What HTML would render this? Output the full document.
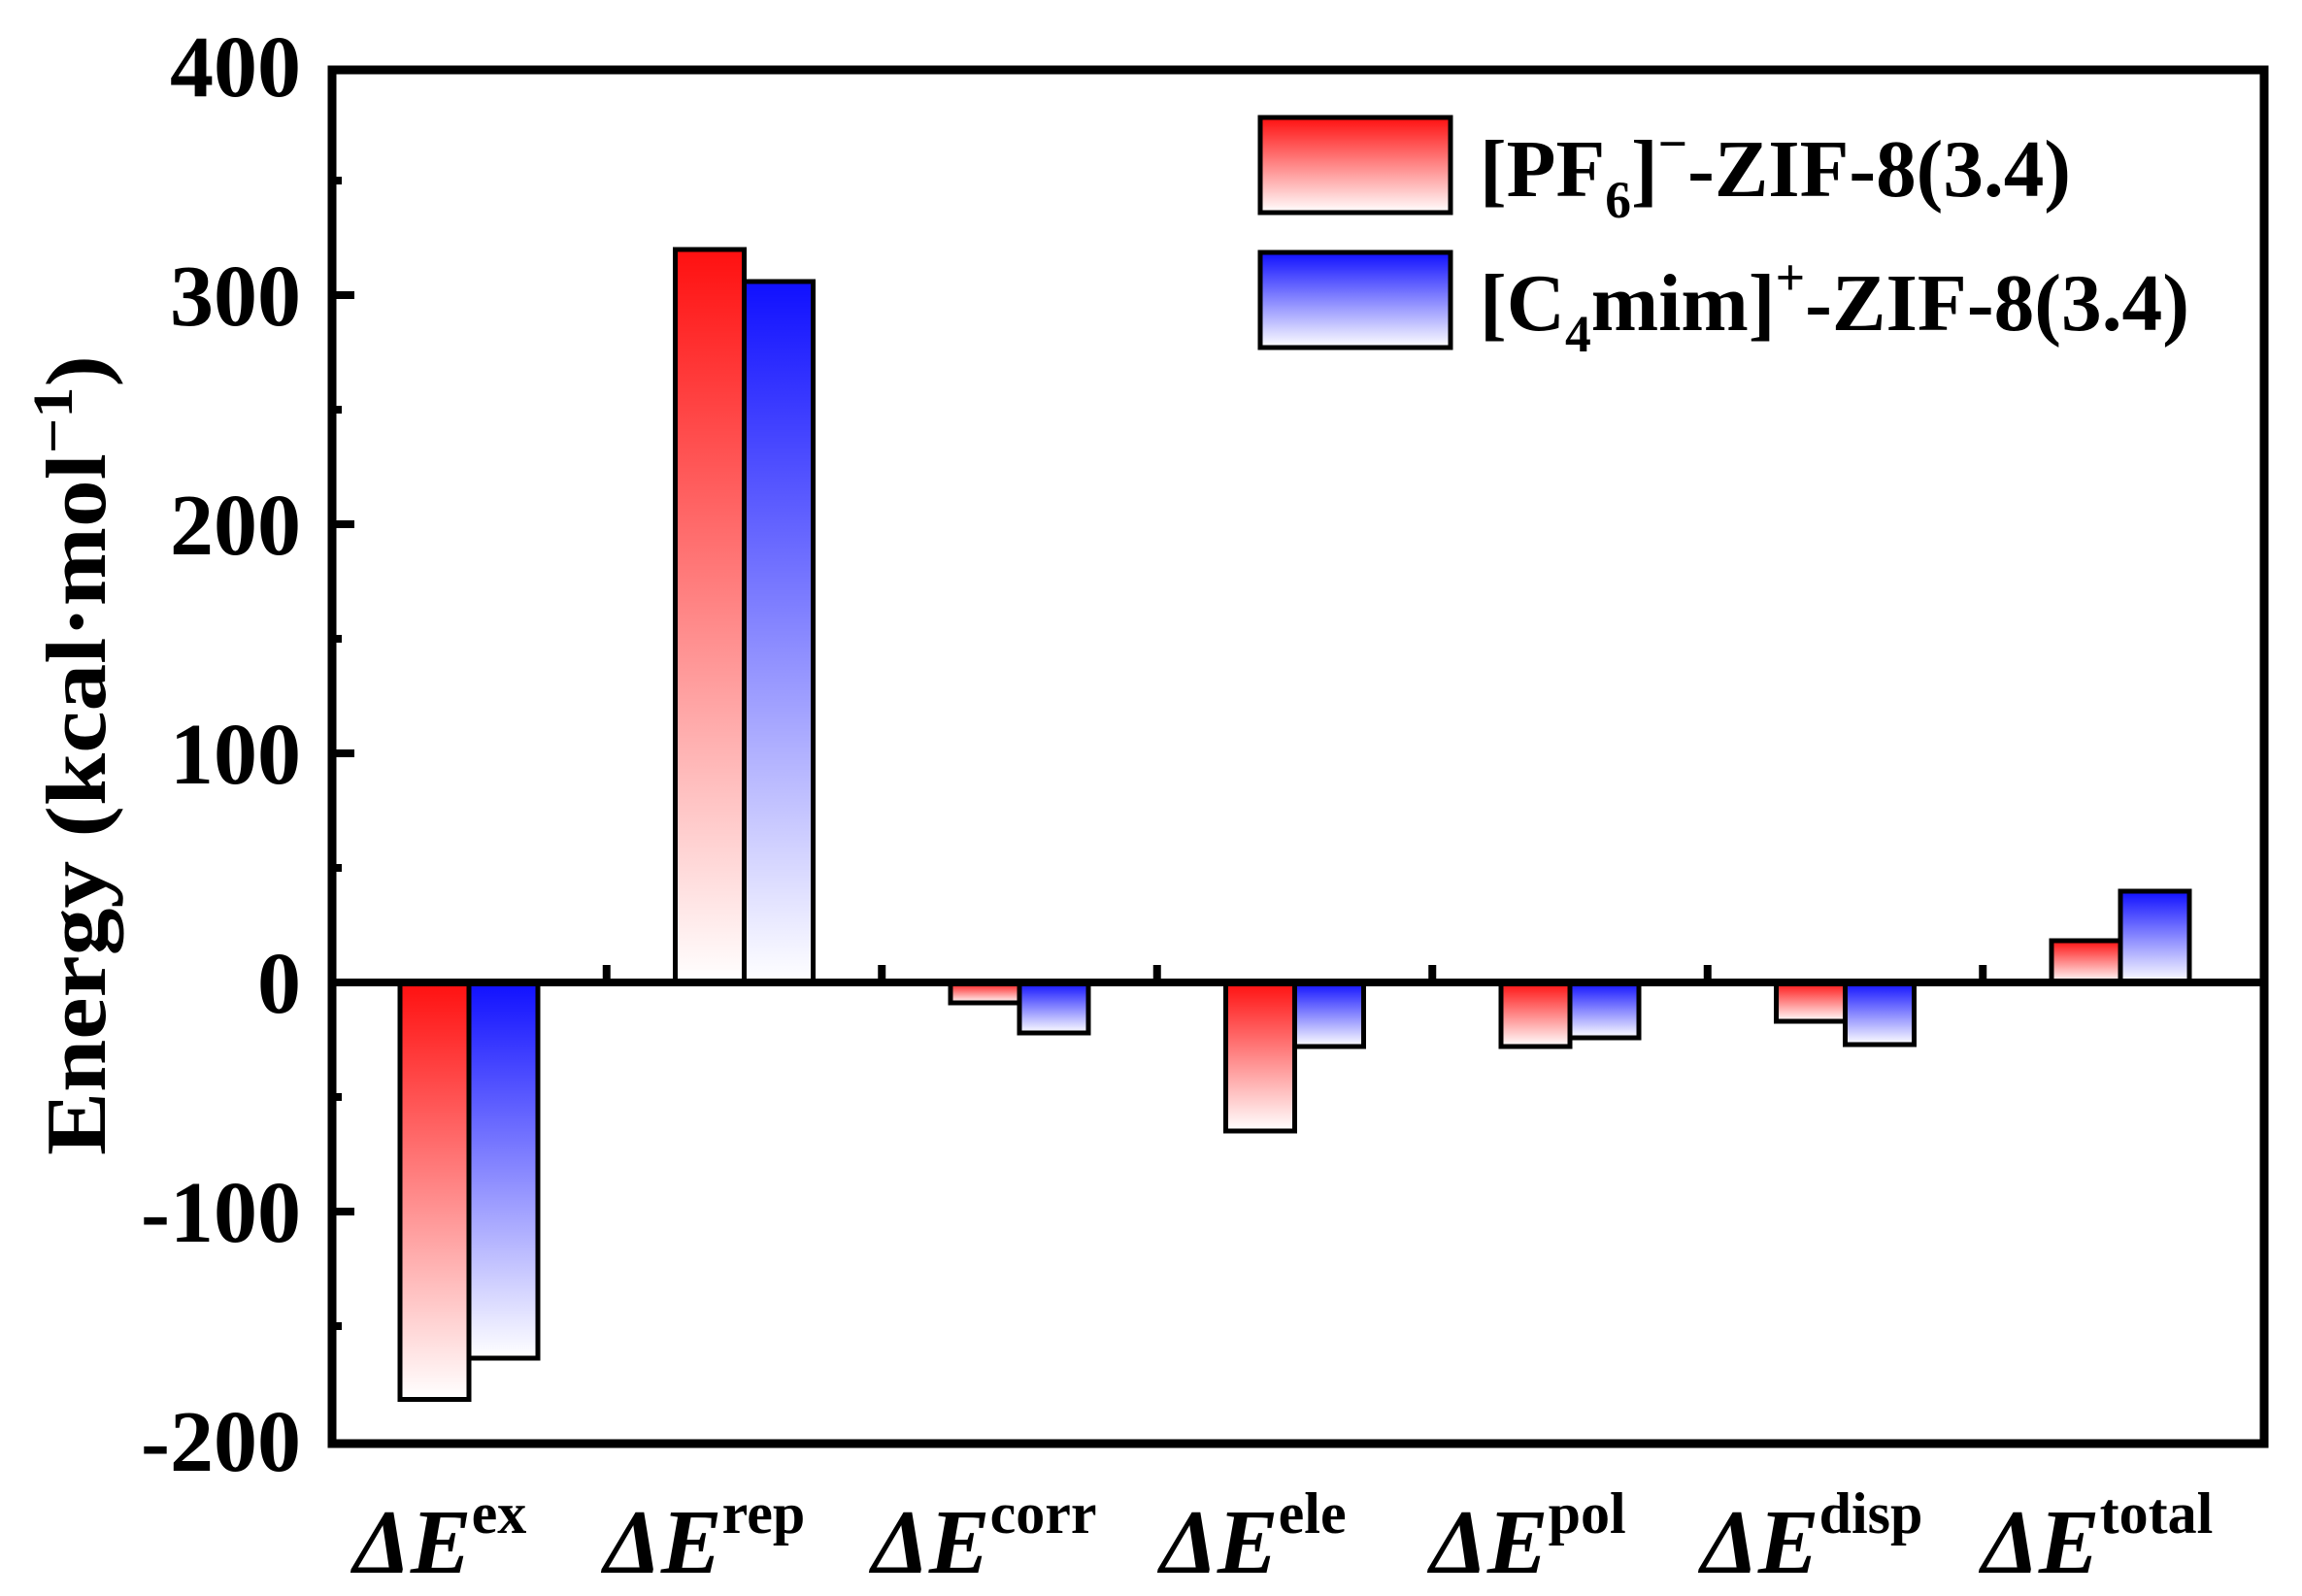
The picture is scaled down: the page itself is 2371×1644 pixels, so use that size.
<!DOCTYPE html>
<html><head><meta charset="utf-8"><style>
html,body{margin:0;padding:0;background:#fff;}
svg{display:block;}
text{font-family:"Liberation Serif",serif;font-weight:bold;fill:#000;}
</style></head><body>
<svg width="2371" height="1644" viewBox="0 0 2371 1644" xmlns="http://www.w3.org/2000/svg">
<defs>
<linearGradient id="r" x1="0" y1="0" x2="0" y2="1"><stop offset="0" stop-color="#ff1010"/><stop offset="1" stop-color="#ffffff"/></linearGradient>
<linearGradient id="b" x1="0" y1="0" x2="0" y2="1"><stop offset="0" stop-color="#1010ff"/><stop offset="1" stop-color="#ffffff"/></linearGradient>
</defs>
<g stroke="#000" stroke-width="5">
<!-- ex c=483 -->
<rect x="412" y="1012" width="71" height="429.5" fill="url(#r)"/>
<rect x="483" y="1012" width="71" height="387" fill="url(#b)"/>
<!-- rep c=766.5 -->
<rect x="695.5" y="257" width="71" height="755" fill="url(#r)"/>
<rect x="766.5" y="290" width="71" height="722" fill="url(#b)"/>
<!-- corr c=1050 -->
<rect x="979" y="1012" width="71" height="21" fill="url(#r)"/>
<rect x="1050" y="1012" width="71" height="52" fill="url(#b)"/>
<!-- ele c=1333.5 -->
<rect x="1262.5" y="1012" width="71" height="153" fill="url(#r)"/>
<rect x="1333.5" y="1012" width="71" height="66" fill="url(#b)"/>
<!-- pol c=1617 -->
<rect x="1546" y="1012" width="71" height="66" fill="url(#r)"/>
<rect x="1617" y="1012" width="71" height="57" fill="url(#b)"/>
<!-- disp c=1900.5 -->
<rect x="1829.5" y="1012" width="71" height="40" fill="url(#r)"/>
<rect x="1900.5" y="1012" width="71" height="64" fill="url(#b)"/>
<!-- total c=2184 -->
<rect x="2113" y="969" width="71" height="43" fill="url(#r)"/>
<rect x="2184" y="918" width="71" height="94" fill="url(#b)"/>
</g>
<line x1="338" y1="1012" x2="2332" y2="1012" stroke="#000" stroke-width="8"/>
<g stroke="#000" stroke-width="8">
<line x1="624.75" y1="1012" x2="624.75" y2="994"/>
<line x1="908.25" y1="1012" x2="908.25" y2="994"/>
<line x1="1191.75" y1="1012" x2="1191.75" y2="994"/>
<line x1="1475.25" y1="1012" x2="1475.25" y2="994"/>
<line x1="1758.75" y1="1012" x2="1758.75" y2="994"/>
<line x1="2042.25" y1="1012" x2="2042.25" y2="994"/>
</g>
<g stroke="#000" stroke-width="8">
<line x1="338" y1="304" x2="365" y2="304"/>
<line x1="338" y1="540" x2="365" y2="540"/>
<line x1="338" y1="776" x2="365" y2="776"/>
<line x1="338" y1="1248" x2="365" y2="1248"/>
<line x1="338" y1="186" x2="352" y2="186"/>
<line x1="338" y1="422" x2="352" y2="422"/>
<line x1="338" y1="658" x2="352" y2="658"/>
<line x1="338" y1="894" x2="352" y2="894"/>
<line x1="338" y1="1130" x2="352" y2="1130"/>
<line x1="338" y1="1366" x2="352" y2="1366"/>
</g>
<rect x="342" y="72" width="1990" height="1415" fill="none" stroke="#000" stroke-width="9"/>
<g font-size="90" text-anchor="end">
<text x="310" y="99">400</text>
<text x="310" y="335">300</text>
<text x="310" y="571">200</text>
<text x="310" y="807">100</text>
<text x="310" y="1043">0</text>
<text x="310" y="1279">-100</text>
<text x="310" y="1515">-200</text>
</g>
<text transform="translate(108,778) rotate(-90)" font-size="88" text-anchor="middle" textLength="824" lengthAdjust="spacingAndGlyphs">Energy (kcal·mol<tspan font-size="58" dy="-34">−1</tspan><tspan dy="34">)</tspan></text>
<g font-size="94">
<text x="364" y="1620" font-style="italic">ΔE<tspan font-style="normal" font-size="60" dy="-41">ex</tspan></text>
<text x="622" y="1620" font-style="italic">ΔE<tspan font-style="normal" font-size="60" dy="-41">rep</tspan></text>
<text x="898" y="1620" font-style="italic">ΔE<tspan font-style="normal" font-size="60" dy="-41">corr</tspan></text>
<text x="1195" y="1620" font-style="italic">ΔE<tspan font-style="normal" font-size="60" dy="-41">ele</tspan></text>
<text x="1473" y="1620" font-style="italic">ΔE<tspan font-style="normal" font-size="60" dy="-41">pol</tspan></text>
<text x="1752" y="1620" font-style="italic">ΔE<tspan font-style="normal" font-size="60" dy="-41">disp</tspan></text>
<text x="2041" y="1620" font-style="italic">ΔE<tspan font-style="normal" font-size="60" dy="-41">total</tspan></text>
</g>
<rect x="1298" y="121" width="196" height="98" fill="url(#r)" stroke="#000" stroke-width="5"/>
<rect x="1298" y="260" width="196" height="98" fill="url(#b)" stroke="#000" stroke-width="5"/>
<text x="1524" y="202" font-size="84" textLength="609" lengthAdjust="spacingAndGlyphs">[PF<tspan font-size="54" dy="22">6</tspan><tspan dy="-22">]</tspan><tspan font-size="54" dy="-36">−</tspan><tspan dy="36">-ZIF-8(3.4)</tspan></text>
<text x="1524" y="340" font-size="84" textLength="731" lengthAdjust="spacingAndGlyphs">[C<tspan font-size="54" dy="22">4</tspan><tspan dy="-22">mim]</tspan><tspan font-size="54" dy="-36">+</tspan><tspan dy="36">-ZIF-8(3.4)</tspan></text>
</svg>
</body></html>
